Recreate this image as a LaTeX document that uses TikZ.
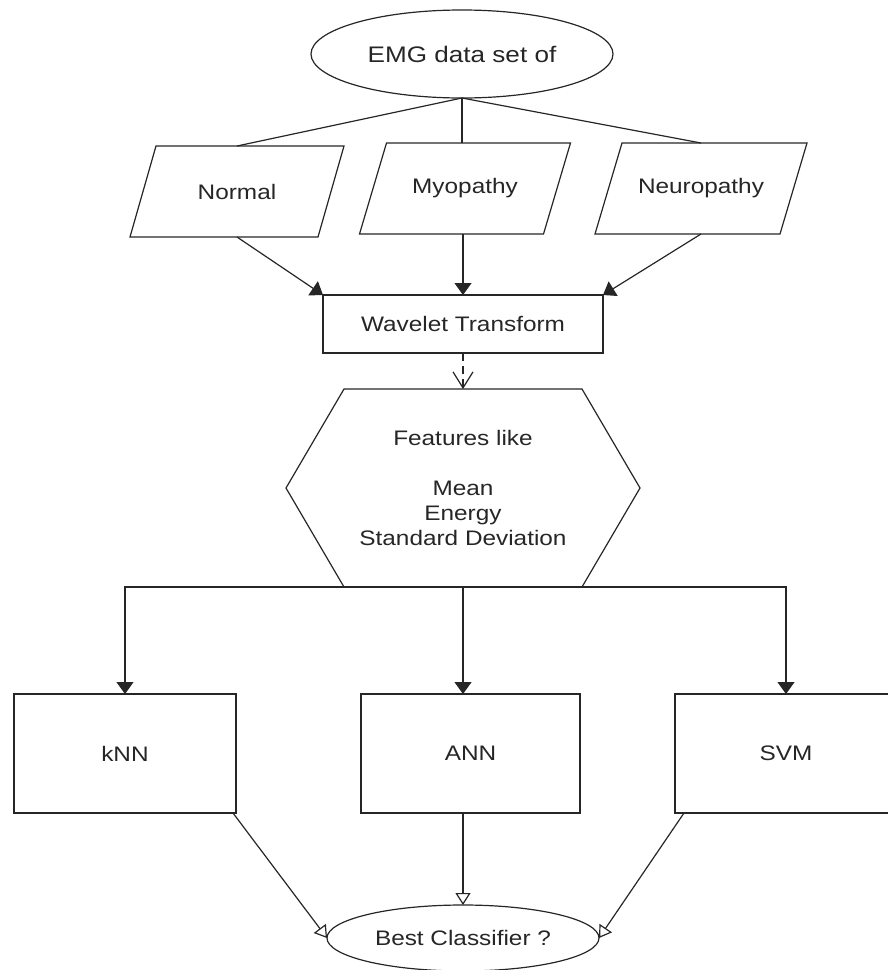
\documentclass[tikz,border=0pt]{standalone}
\usepackage{fontspec}
\setmainfont{Liberation Sans}[FakeStretch=1.16]
\usetikzlibrary{shapes.geometric,arrows.meta,calc}
\begin{document}
\begin{tikzpicture}[x=1pt,y=-1pt,
  every node/.style={inner sep=0pt, outer sep=0pt, text=black!85, font=\fontsize{21}{25}\selectfont},
  lw/.style={line width=1.2pt, draw=black!85},
  boxnode/.style={rectangle, lw},
  ellnode/.style={ellipse, lw},
  plainnode/.style={rectangle},
  solidtip/.style={lw, -{Triangle[length=12pt,width=17pt]}},
  opentip/.style={lw, -{Triangle[open,length=12pt,width=15pt]}},
  barbtip/.style={lw, dash pattern=on 8pt off 5pt, -{Straight Barb[length=16pt,width=20pt]}},
]
\useasboundingbox (0,0) rectangle (888,970);
\clip (0,0) rectangle (888,970);

% top ellipse
\node[ellnode, minimum width=302pt, minimum height=88pt, font=\fontsize{22.5}{25}\selectfont] (emg) at (462,54) {EMG data set of};

% parallelograms (bounding nodes)
\node[plainnode, minimum width=214pt, minimum height=91pt] (normal) at (237,191.5) {Normal};
\node[plainnode, minimum width=211pt, minimum height=91pt] (myo) at (465,188.5) {Myopathy};
\node[plainnode, minimum width=212pt, minimum height=91pt] (neuro) at (701,188.5) {Neuropathy};
\draw[lw] ($(normal.north west)+(26,0)$) -- (normal.north east) -- ($(normal.south east)+(-26,0)$) -- (normal.south west) -- cycle;
\draw[lw] ($(myo.north west)+(27,0)$) -- (myo.north east) -- ($(myo.south east)+(-27,0)$) -- (myo.south west) -- cycle;
\draw[lw] ($(neuro.north west)+(27,0)$) -- (neuro.north east) -- ($(neuro.south east)+(-27,0)$) -- (neuro.south west) -- cycle;

% wavelet
\node[boxnode, minimum width=280pt, minimum height=58pt] (wave) at (463,324) {Wavelet Transform};

% hexagon
\node[plainnode, minimum width=354pt, minimum height=198pt, align=center] (hex) at (463,488)
  {Features like\\[25pt]Mean\\Energy\\Standard Deviation};
\draw[lw] ($(hex.north west)+(58,0)$) -- ($(hex.north east)+(-58,0)$) -- (hex.east)
  -- ($(hex.south east)+(-58,0)$) -- ($(hex.south west)+(58,0)$) -- (hex.west) -- cycle;

% classifiers
\node[boxnode, minimum width=222pt, minimum height=119pt] (knn) at (125,753.5) {kNN};
\node[boxnode, minimum width=219pt, minimum height=119pt] (ann) at (470.5,753.5) {ANN};
\node[boxnode, minimum width=222pt, minimum height=119pt] (svm) at (786,753.5) {SVM};

% best classifier
\node[ellnode, minimum width=272pt, minimum height=66pt] (best) at (463,938) {Best Classifier ?};

% connectors
\draw[lw] (emg.south) -- (normal.north);
\draw[lw] (emg.south) -- (myo.north -| emg.south);
\draw[lw] (emg.south) -- (neuro.north);
\draw[solidtip] (normal.south) -- (wave.north west);
\draw[solidtip] (myo.south -| wave.north) -- (wave.north);
\draw[solidtip] (neuro.south) -- (wave.north east);
\draw[barbtip] (wave.south) -- (hex.north);
\draw[solidtip] (hex.south) -| (knn.north);
\draw[solidtip] (hex.south) -| (svm.north);
\draw[solidtip] (hex.south) -- (hex.south |- ann.north);
\draw[opentip] ($(knn.south east)+(-3,0)$) -- (best.west);
\draw[opentip] (ann.south -| best.north) -- (best.north);
\draw[opentip] ($(svm.south west)+(9,0)$) -- (best.east);
\end{tikzpicture}
\end{document}
